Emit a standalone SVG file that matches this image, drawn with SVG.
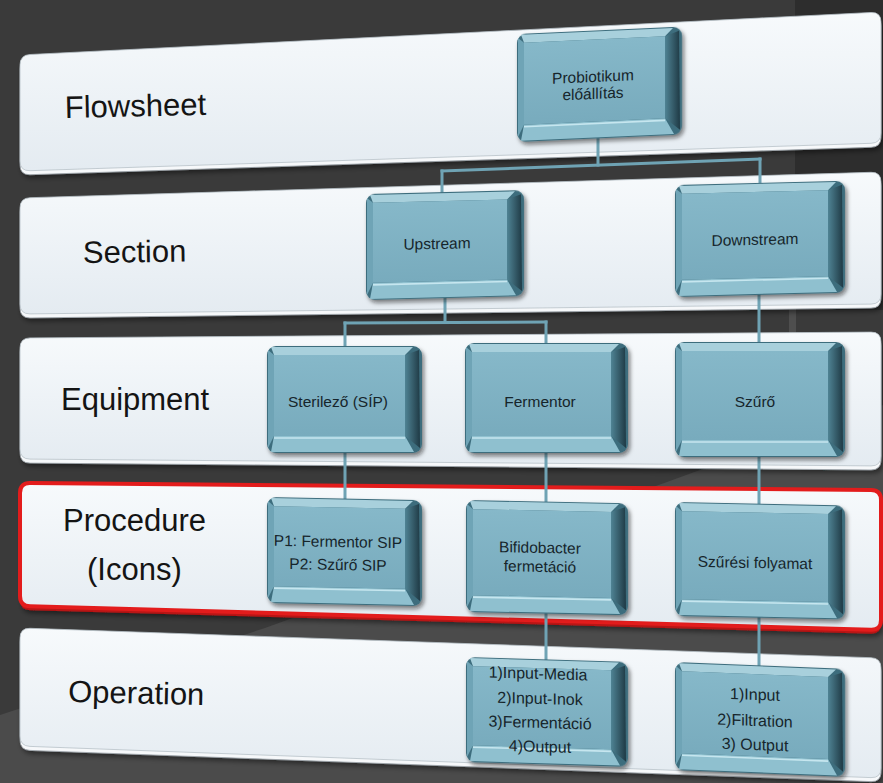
<svg xmlns="http://www.w3.org/2000/svg" width="883" height="783" viewBox="0 0 883 783">
<defs>
<style>
.row{font-family:"Liberation Sans",Arial,sans-serif;font-size:31px;fill:#141414}
.ntx{font-family:"Liberation Sans",Arial,sans-serif;font-size:15.5px;fill:#16252b;text-anchor:middle}
.otx{font-family:"Liberation Sans",Arial,sans-serif;font-size:16px;fill:#16252b;text-anchor:middle}
.band-rim{fill:#f6f8fa;stroke:#9aa2a8;stroke-width:.8;filter:url(#bsh)}
.band-face{fill:url(#bandGrad);stroke:#b8c1c8;stroke-width:.8}
.red-rim{fill:#b81212;filter:url(#bsh)}
.red-face{fill:url(#bandGrad);stroke:#e31c1c;stroke-width:4}
.conn line{stroke:#6fa3b4;stroke-width:3;stroke-linecap:square}
.nb{fill:#3d6d7d;filter:url(#nsh)}
.nt{fill:#a8d0dc}
.nl{fill:#6fa4b6}
.nbt{fill:#8fc0cf}
.nr{fill:url(#rGrad)}
.nf{fill:url(#fGrad)}
.nh{stroke:#c6e6ef;stroke-width:1.6}
</style>
<linearGradient id="bandGrad" x1="0" y1="0" x2="0" y2="1">
<stop offset="0" stop-color="#f7fafc"/><stop offset="1" stop-color="#e4ebf1"/>
</linearGradient>
<linearGradient id="fGrad" x1="0" y1="0" x2="0" y2="1">
<stop offset="0" stop-color="#86b8c9"/><stop offset="1" stop-color="#78abbd"/>
</linearGradient>
<linearGradient id="rGrad" x1="0" y1="0" x2="1" y2="0">
<stop offset="0" stop-color="#4f8394"/><stop offset="1" stop-color="#1f3a45"/>
</linearGradient>
<filter id="bsh" x="-5%" y="-20%" width="110%" height="150%">
<feDropShadow dx="2" dy="3" stdDeviation="2.5" flood-color="#000" flood-opacity=".45"/>
</filter>
<filter id="nsh" x="-10%" y="-10%" width="125%" height="130%">
<feDropShadow dx="2" dy="3" stdDeviation="2" flood-color="#0a1418" flood-opacity=".55"/>
</filter>
</defs>

<g id="background">
<rect width="883" height="783" fill="#3a3a3a"/>
<rect x="795" y="0" width="88" height="310" fill="#2d2d2d"/>
<rect x="789" y="300" width="7" height="40" fill="#4e4e4e"/>
<polygon points="0,715 265,628 700,470 883,405 883,783 0,783" fill="#4b4b4b"/>
</g>

<g id="band-flowsheet">
<path class="band-rim" transform="translate(0,4)" d="M20,65 Q20,55 30,54.5 L871,12.5 Q881,12 881,22 L881,133 Q881,143 871,143.3 L30,170.7 Q20,171 20,161 Z"/>
<path class="band-face" d="M20,65 Q20,55 30,54.5 L871,12.5 Q881,12 881,22 L881,133 Q881,143 871,143.3 L30,170.7 Q20,171 20,161 Z"/>
<text class="row" x="65" y="118" transform="rotate(-1.3 65 118)">Flowsheet</text>
</g>

<g id="band-section">
<path class="band-rim" transform="translate(0,4)" d="M20,208 Q20,198 30,197.7 L871,172.3 Q881,172 881,182 L881,294 Q881,304 871,304.1 L30,313.9 Q20,314 20,304 Z"/>
<path class="band-face" d="M20,208 Q20,198 30,197.7 L871,172.3 Q881,172 881,182 L881,294 Q881,304 871,304.1 L30,313.9 Q20,314 20,304 Z"/>
<text class="row" x="83" y="263" transform="rotate(-0.8 83 263)">Section</text>
</g>

<g id="band-equipment">
<path class="band-rim" transform="translate(0,4)" d="M20,348 Q20,338 30,337.9 L871,332.1 Q881,332 881,342 L881,456 Q881,466 871,465.9 L30,459.1 Q20,459 20,449 Z"/>
<path class="band-face" d="M20,348 Q20,338 30,337.9 L871,332.1 Q881,332 881,342 L881,456 Q881,466 871,465.9 L30,459.1 Q20,459 20,449 Z"/>
<text class="row" x="61" y="410">Equipment</text>
</g>

<g id="band-procedure">
<path class="red-rim" transform="translate(0,4)" d="M20,493 Q20,483 30,483.1 L871,489.9 Q881,490 881,500 L881,620 Q881,630 871,629.7 L30,606.3 Q20,606 20,596 Z"/>
<path class="red-face" d="M20,493 Q20,483 30,483.1 L871,489.9 Q881,490 881,500 L881,620 Q881,630 871,629.7 L30,606.3 Q20,606 20,596 Z"/>
<text class="row" x="63" y="531">Procedure</text>
<text class="row" x="87" y="580">(Icons)</text>
</g>

<g id="band-operation">
<path class="band-rim" transform="translate(0,4)" d="M20,638 Q20,628 30,628.3 L871,657.7 Q881,658 881,668 L881,768 Q881,778 871,777.6 L30,746.4 Q20,746 20,736 Z"/>
<path class="band-face" d="M20,638 Q20,628 30,628.3 L871,657.7 Q881,658 881,668 L881,768 Q881,778 871,777.6 L30,746.4 Q20,746 20,736 Z"/>
<text class="row" x="68" y="702" transform="rotate(1.3 68 702)">Operation</text>
</g>

<g id="connectors" class="conn">
<line x1="598" y1="138" x2="598" y2="165"/>
<line x1="442" y1="171" x2="760" y2="159"/>
<line x1="442" y1="171" x2="442" y2="193"/>
<line x1="760" y1="159" x2="760" y2="184"/>
<line x1="445" y1="298" x2="445" y2="322"/>
<line x1="345" y1="323" x2="546" y2="322"/>
<line x1="345" y1="323" x2="345" y2="347"/>
<line x1="546" y1="322" x2="546" y2="344"/>
<line x1="759" y1="295" x2="759" y2="343"/>
<line x1="345" y1="453" x2="345" y2="499"/>
<line x1="546" y1="453" x2="546" y2="502"/>
<line x1="759" y1="457" x2="759" y2="504"/>
<line x1="546" y1="613" x2="546" y2="660"/>
<line x1="759" y1="617" x2="759" y2="666"/>
</g>

<g id="node-probiotikum" transform="translate(517,34) skewY(-2.58)">
<rect class="nb" width="165" height="108" rx="9"/>
<polygon class="nr" points="148,9 162,4 163,103 148,91"/>
<polygon class="nt" points="4,1 156,1 148,9 7,9"/>
<polygon class="nl" points="1,4 7,9 7,91 1,103"/>
<polygon class="nbt" points="4,107 7,91 148,91 157,107"/>
<rect class="nf" x="7" y="9" width="141" height="82"/>
<line class="nh" x1="7" y1="93" x2="148" y2="93"/>
<text class="ntx" x="76" y="51.4">Probiotikum</text>
<text class="ntx" x="76" y="68.4">előállítás</text>
</g>

<g id="node-upstream" transform="translate(366,194) skewY(-1.43)">
<rect class="nb" width="158" height="106" rx="9"/>
<polygon class="nr" points="141,9 155,4 156,101 141,89"/>
<polygon class="nt" points="4,1 149,1 141,9 7,9"/>
<polygon class="nl" points="1,4 7,9 7,89 1,101"/>
<polygon class="nbt" points="4,105 7,89 141,89 150,105"/>
<rect class="nf" x="7" y="9" width="134" height="80"/>
<line class="nh" x1="7" y1="91" x2="141" y2="91"/>
<text class="ntx" x="71" y="56.8">Upstream</text>
</g>

<g id="node-downstream" transform="translate(675,185) skewY(-1.43)">
<rect class="nb" width="170" height="112" rx="9"/>
<polygon class="nr" points="153,9 167,4 168,107 153,95"/>
<polygon class="nt" points="4,1 161,1 153,9 7,9"/>
<polygon class="nl" points="1,4 7,9 7,95 1,107"/>
<polygon class="nbt" points="4,111 7,95 153,95 162,111"/>
<rect class="nf" x="7" y="9" width="146" height="86"/>
<line class="nh" x1="7" y1="97" x2="153" y2="97"/>
<text class="ntx" x="80" y="62">Downstream</text>
</g>

<g id="node-sterilezo" transform="translate(267,346)">
<rect class="nb" width="155" height="107" rx="9"/>
<polygon class="nr" points="138,9 152,4 153,102 138,90"/>
<polygon class="nt" points="4,1 146,1 138,9 7,9"/>
<polygon class="nl" points="1,4 7,9 7,90 1,102"/>
<polygon class="nbt" points="4,106 7,90 138,90 147,106"/>
<rect class="nf" x="7" y="9" width="131" height="81"/>
<line class="nh" x1="7" y1="92" x2="138" y2="92"/>
<text class="ntx" x="71" y="61">Sterilező (SÍP)</text>
</g>

<g id="node-fermentor" transform="translate(465,343)">
<rect class="nb" width="163" height="110" rx="9"/>
<polygon class="nr" points="146,9 160,4 161,105 146,93"/>
<polygon class="nt" points="4,1 154,1 146,9 7,9"/>
<polygon class="nl" points="1,4 7,9 7,93 1,105"/>
<polygon class="nbt" points="4,109 7,93 146,93 155,109"/>
<rect class="nf" x="7" y="9" width="139" height="84"/>
<line class="nh" x1="7" y1="95" x2="146" y2="95"/>
<text class="ntx" x="75" y="64">Fermentor</text>
</g>

<g id="node-szuro" transform="translate(675,342)">
<rect class="nb" width="170" height="115" rx="9"/>
<polygon class="nr" points="153,9 167,4 168,110 153,98"/>
<polygon class="nt" points="4,1 161,1 153,9 7,9"/>
<polygon class="nl" points="1,4 7,9 7,98 1,110"/>
<polygon class="nbt" points="4,114 7,98 153,98 162,114"/>
<rect class="nf" x="7" y="9" width="146" height="89"/>
<line class="nh" x1="7" y1="100" x2="153" y2="100"/>
<text class="ntx" x="80" y="65">Szűrő</text>
</g>

<g id="node-sip" transform="translate(267,497) skewY(1.15)">
<rect class="nb" width="155" height="106" rx="9"/>
<polygon class="nr" points="138,9 152,4 153,101 138,89"/>
<polygon class="nt" points="4,1 146,1 138,9 7,9"/>
<polygon class="nl" points="1,4 7,9 7,89 1,101"/>
<polygon class="nbt" points="4,105 7,89 138,89 147,105"/>
<rect class="nf" x="7" y="9" width="131" height="80"/>
<line class="nh" x1="7" y1="91" x2="138" y2="91"/>
<text class="ntx" x="71" y="48.6">P1: Fermentor SIP</text>
<text class="ntx" x="71" y="71.6">P2: Szűrő SIP</text>
</g>

<g id="node-bifido" transform="translate(466,500) skewY(1.15)">
<rect class="nb" width="162" height="112" rx="9"/>
<polygon class="nr" points="145,9 159,4 160,107 145,95"/>
<polygon class="nt" points="4,1 153,1 145,9 7,9"/>
<polygon class="nl" points="1,4 7,9 7,95 1,107"/>
<polygon class="nbt" points="4,111 7,95 145,95 154,111"/>
<rect class="nf" x="7" y="9" width="138" height="86"/>
<line class="nh" x1="7" y1="97" x2="145" y2="97"/>
<text class="ntx" x="74" y="51.5">Bifidobacter</text>
<text class="ntx" x="74" y="70.5">fermetáció</text>
</g>

<g id="node-szuresi" transform="translate(675,502) skewY(1.15)">
<rect class="nb" width="170" height="114" rx="9"/>
<polygon class="nr" points="153,9 167,4 168,109 153,97"/>
<polygon class="nt" points="4,1 161,1 153,9 7,9"/>
<polygon class="nl" points="1,4 7,9 7,97 1,109"/>
<polygon class="nbt" points="4,113 7,97 153,97 162,113"/>
<rect class="nf" x="7" y="9" width="146" height="88"/>
<line class="nh" x1="7" y1="99" x2="153" y2="99"/>
<text class="ntx" x="80" y="64.4">Szűrési folyamat</text>
</g>

<g id="node-op-ferm" transform="translate(466,657) skewY(1.72)">
<rect class="nb" width="162" height="105" rx="9"/>
<polygon class="nr" points="145,9 159,4 160,100 145,88"/>
<polygon class="nt" points="4,1 153,1 145,9 7,9"/>
<polygon class="nl" points="1,4 7,9 7,88 1,100"/>
<polygon class="nbt" points="4,104 7,88 145,88 154,104"/>
<rect class="nf" x="7" y="9" width="138" height="79"/>
<line class="nh" x1="7" y1="90" x2="145" y2="90"/>
<text class="otx" x="72" y="19.8">1)Input-Media</text>
<text class="otx" x="74" y="44.8">2)Input-Inok</text>
<text class="otx" x="74" y="68.8">3)Fermentáció</text>
<text class="otx" x="74" y="92.8">4)Output</text>
</g>

<g id="node-op-szur" transform="translate(675,662) skewY(2.29)">
<rect class="nb" width="170" height="108" rx="9"/>
<polygon class="nr" points="153,9 167,4 168,103 153,91"/>
<polygon class="nt" points="4,1 161,1 153,9 7,9"/>
<polygon class="nl" points="1,4 7,9 7,91 1,103"/>
<polygon class="nbt" points="4,107 7,91 153,91 162,107"/>
<rect class="nf" x="7" y="9" width="146" height="82"/>
<line class="nh" x1="7" y1="93" x2="153" y2="93"/>
<text class="otx" x="80" y="34.8">1)Input</text>
<text class="otx" x="80" y="60.8">2)Filtration</text>
<text class="otx" x="80" y="84.8">3) Output</text>
</g>
</svg>
